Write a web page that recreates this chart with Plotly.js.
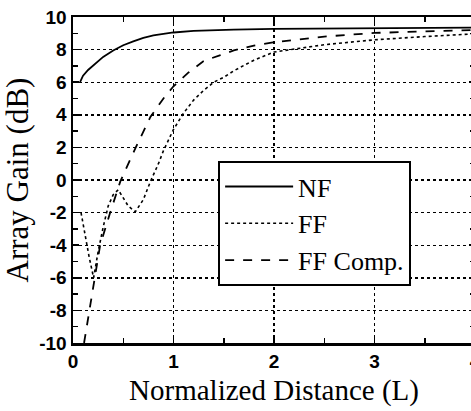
<!DOCTYPE html>
<html>
<head>
<meta charset="utf-8">
<script src="https://cdn.plot.ly/plotly-3.0.1.min.js"></script>
<style>
html, body { margin: 0; padding: 0; overflow: hidden; background: #fff; width: 471px; height: 411px; }
#chart { width: 480px; height: 411px; }
</style>
</head>
<body>
<div id="chart"></div>
<script>
// Normalized distance (L) and array gain (dB) for each curve
const nfX = [0.07, 0.1, 0.15, 0.2, 0.3, 0.4, 0.5, 0.6, 0.7, 0.8, 0.9, 1.0, 1.2, 1.4, 1.6, 2.0, 2.5, 3.0, 3.5, 4.0];
const nfY = [6.0, 6.4, 6.75, 7.03, 7.55, 7.95, 8.27, 8.5, 8.72, 8.88, 8.98, 9.05, 9.15, 9.2, 9.23, 9.27, 9.3, 9.32, 9.33, 9.35];

const ffX = [0.08, 0.12, 0.16, 0.205, 0.25, 0.3, 0.35, 0.4, 0.45, 0.5, 0.55, 0.62, 0.7, 0.77, 0.85, 0.9, 0.95, 1.0, 1.1, 1.2, 1.3, 1.4, 1.5, 1.6, 1.8, 2.0, 2.5, 3.0, 3.5, 4.0];
const ffY = [-2.0, -3.4, -4.7, -6.0, -4.4, -2.9, -1.6, -0.9, -0.6, -1.1, -1.6, -1.95, -1.2, -0.1, 1.0, 1.8, 2.5, 3.1, 4.1, 4.9, 5.5, 6.0, 6.3, 6.7, 7.35, 7.85, 8.3, 8.6, 8.8, 8.97];

const ffcX = [0.11, 0.165, 0.215, 0.27, 0.37, 0.47, 0.62, 0.77, 0.9, 1.0, 1.15, 1.3, 1.46, 1.6, 1.8, 2.0, 2.5, 3.0, 3.5, 4.0];
const ffcY = [-10.0, -7.95, -6.0, -4.0, -2.0, -0.1, 1.94, 3.87, 5.0, 5.75, 6.6, 7.3, 7.65, 7.95, 8.25, 8.45, 8.8, 9.02, 9.12, 9.2];

const seriesNames = ["NF", "FF", "FF Comp."];
const xTicks = [0, 1, 2, 3, 4];
const yTicks = [-10, -8, -6, -4, -2, 0, 2, 4, 6, 8, 10];

const serif = "Liberation Serif, Times New Roman, serif";
const sans = "Liberation Sans, Arial, sans-serif";

const traces = [
  {x: nfX, y: nfY, name: seriesNames[0], mode: "lines", line: {color: "#000", width: 1.8, dash: "solid"}},
  {x: ffX, y: ffY, name: seriesNames[1], mode: "lines", line: {color: "#000", width: 1.6, dash: "dot"}},
  {x: ffcX, y: ffcY, name: seriesNames[2], mode: "lines", line: {color: "#000", width: 1.8, dash: "dash"}}
];

const axisCommon = {
  showline: true, linecolor: "#000", linewidth: 2.5, mirror: "allticks",
  ticks: "inside", ticklen: 6, tickwidth: 1.5, tickcolor: "#000",
  showgrid: true, gridcolor: "#000", gridwidth: 1.4, griddash: "dot",
  zeroline: false, ticklabeloverflow: "allow",
  tickfont: {family: sans, size: 19, color: "#000", weight: "bold"}
};

const layout = {
  width: 480, height: 411,
  margin: {l: 72.7, r: 4.5, t: 16.7, b: 67.7},
  paper_bgcolor: "#fff", plot_bgcolor: "#fff",
  showlegend: true,
  xaxis: Object.assign({}, axisCommon, {
    range: [0, 4], tickmode: "array", tickvals: xTicks, ticktext: xTicks.map(String),
    minor: {dtick: 0.5, ticks: "inside", ticklen: 5, tickwidth: 1.5, tickcolor: "#000", showgrid: false},
    title: {text: "Normalized Distance (L)", font: {family: serif, size: 29, color: "#000"}, standoff: 9}
  }),
  yaxis: Object.assign({}, axisCommon, {
    range: [-10, 10], tickmode: "array", tickvals: yTicks, ticktext: yTicks.map(String),
    minor: {dtick: 1, ticks: "inside", ticklen: 5, tickwidth: 1.5, tickcolor: "#000", showgrid: false},
    title: {text: "Array Gain (dB)", font: {family: serif, size: 31, color: "#000"}, standoff: 6}
  }),
  legend: {
    x: 0.361, y: 0.558, xanchor: "left", yanchor: "top",
    bgcolor: "#fff", bordercolor: "#000", borderwidth: 2,
    font: {family: serif, size: 26, color: "#000"},
    itemwidth: 68
  }
};

Plotly.newPlot("chart", traces, layout, {displayModeBar: false, staticPlot: true});
</script>
</body>
</html>
